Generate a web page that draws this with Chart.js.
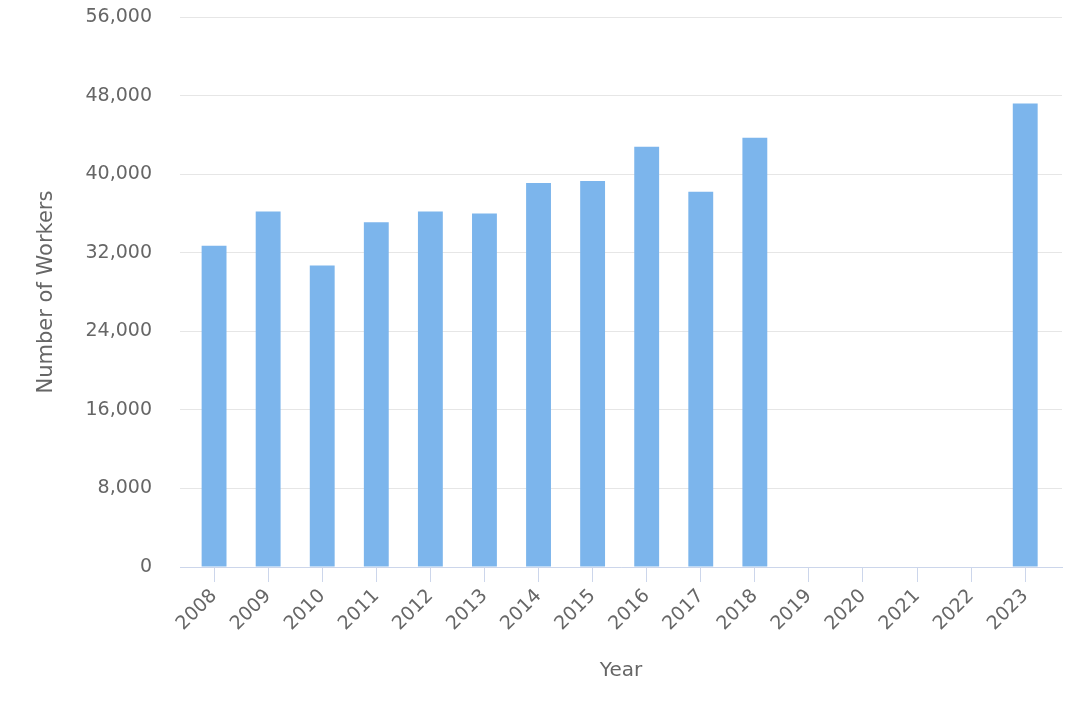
<!DOCTYPE html>
<html>
<head>
<meta charset="utf-8">
<script src="https://cdn.jsdelivr.net/npm/chart.js@4/dist/chart.umd.min.js"></script>
<style>
  html, body { margin: 0; padding: 0; background: #ffffff; }
  #wrap { width: 1080px; height: 720px; }
</style>
</head>
<body>
<div id="wrap"><canvas id="myChart" width="1080" height="720"></canvas></div>
<script>
// Data
const years = ['2008', '2009', '2010', '2011', '2012', '2013', '2014', '2015',
               '2016', '2017', '2018', '2019', '2020', '2021', '2022', '2023'];
const workers = [32700, 36200, 30700, 35100, 36200, 36000, 39100, 39300,
                 42800, 38200, 43700, null, null, null, null, 47200];
const yTicks = [0, 8000, 16000, 24000, 32000, 40000, 48000, 56000];

const textColor = '#666666';
const fontFamily = '"DejaVu Sans", Verdana, sans-serif';
const firstYear = Number(years[0]);
const lastYear = Number(years[years.length - 1]);

const ctx = document.getElementById('myChart').getContext('2d');

new Chart(ctx, {
    type: 'bar',
    data: {
        labels: years,
        datasets: [{
            label: 'Number of Workers',
            data: workers,
            backgroundColor: '#7cb5ec',
            borderWidth: 0,
            categoryPercentage: 1,
            barPercentage: 0.46
        }]
    },
    options: {
        responsive: false,
        animation: false,
        layout: {
            autoPadding: false,
            padding: { top: 17, right: 18, left: 0, bottom: 0 }
        },
        plugins: {
            legend: { display: false },
            tooltip: { enabled: false }
        },
        scales: {
            x: {
                type: 'linear',
                offset: false,
                // category padding like the original (axis a bit wider than the bars)
                min: firstYear - 0.63,
                max: lastYear + 0.68,
                afterBuildTicks: (scale) => {
                    scale.ticks = years.map(y => ({ value: Number(y) }));
                },
                grid: {
                    offset: false,
                    drawOnChartArea: false,
                    drawTicks: true,
                    tickLength: 15,
                    color: '#ccd6eb'
                },
                border: { color: '#ccd6eb', width: 1 },
                ticks: {
                    color: textColor,
                    font: { family: fontFamily, size: 19 },
                    minRotation: 45,
                    maxRotation: 45,
                    padding: 3,
                    labelOffset: 0,
                    callback: (value) => String(value)
                },
                title: {
                    display: true,
                    text: 'Year',
                    color: textColor,
                    font: { family: fontFamily, size: 20 },
                    padding: { top: 0, bottom: 37 }
                },
                afterFit: (scale) => {
                    scale.height = 153;
                    scale.paddingLeft = 0;
                    scale.paddingRight = 0;
                }
            },
            y: {
                min: 0,
                max: 56000,
                afterBuildTicks: (scale) => {
                    scale.ticks = yTicks.map(v => ({ value: v }));
                },
                grid: {
                    color: '#e6e6e6',
                    drawTicks: false
                },
                border: { display: false },
                ticks: {
                    color: textColor,
                    font: { family: fontFamily, size: 19 },
                    padding: 28,
                    callback: (value) => value.toLocaleString('en-US')
                },
                title: {
                    display: true,
                    text: 'Number of Workers',
                    color: textColor,
                    font: { family: fontFamily, size: 21 },
                    padding: { top: 34, bottom: 0 }
                },
                afterFit: (scale) => {
                    scale.width = 180;
                    scale.paddingTop = 0;
                    scale.paddingBottom = 0;
                }
            }
        }
    }
});
</script>
</body>
</html>
